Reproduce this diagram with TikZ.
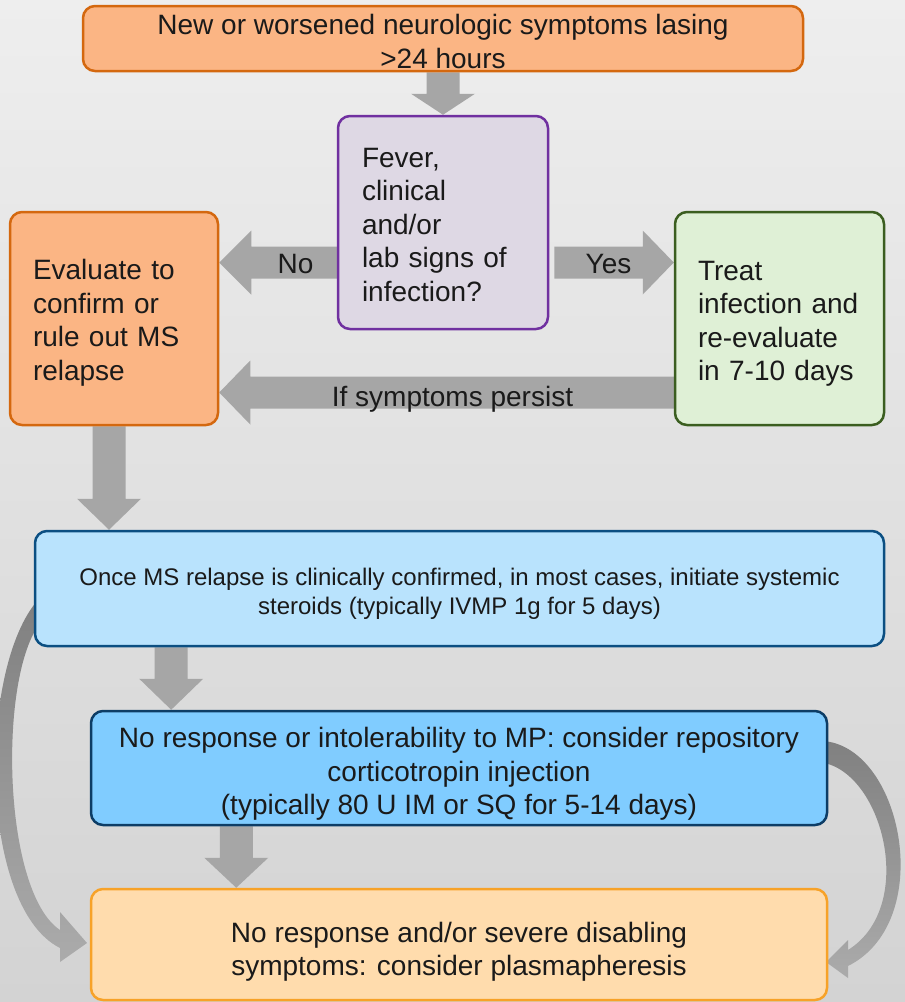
\documentclass[tikz,border=0pt]{standalone}
\usepackage{fontspec}
\setmainfont{Liberation Sans}
\usetikzlibrary{calc}
\pgfdeclarelayer{background}
\pgfsetlayers{background,main}
\definecolor{bgtop}{HTML}{EEEEEE}
\definecolor{bgbot}{HTML}{D3D3D3}
\definecolor{topfill}{HTML}{FBB584}
\definecolor{topdraw}{HTML}{D4680F}
\definecolor{purfill}{HTML}{DED8E4}
\definecolor{purdraw}{HTML}{7030A0}
\definecolor{grfill}{HTML}{DFF0D6}
\definecolor{grdraw}{HTML}{3B5E20}
\definecolor{bafill}{HTML}{B9E3FD}
\definecolor{badraw}{HTML}{0B4F82}
\definecolor{bbfill}{HTML}{80CCFF}
\definecolor{bbdraw}{HTML}{0D3D66}
\definecolor{btfill}{HTML}{FFDCAD}
\definecolor{btdraw}{HTML}{F7A228}
\definecolor{arrowgray}{HTML}{A6A6A6}
\definecolor{curvetop}{HTML}{7F7F7F}
\definecolor{curvebot}{HTML}{ABABAB}
\definecolor{txt}{HTML}{1A1A1A}
\newcommand\tsh[1]{\rule{0pt}{#1}}
\newcommand\blkdown[3]{%
  \fill[arrowgray] let \p1=(#1), \p2=(#2) in
   (\x1-16.5pt,\y1) -- (\x1-16.5pt,\y2+#3) -- (\x1-32pt,\y2+#3) -- (\x1,\y2)
   -- (\x1+32pt,\y2+#3) -- (\x1+16.5pt,\y2+#3) -- (\x1+16.5pt,\y1) -- cycle;}
\newcommand\blkleft[3]{%
  \fill[arrowgray] let \p1=(#1), \p2=(#2) in
   (\x1,\y1+16pt) -- (\x2+#3,\y1+16pt) -- (\x2+#3,\y1+32pt) -- (\x2,\y1)
   -- (\x2+#3,\y1-32pt) -- (\x2+#3,\y1-16pt) -- (\x1,\y1-16pt) -- cycle;}
\newcommand\blkright[3]{%
  \fill[arrowgray] let \p1=(#1), \p2=(#2) in
   (\x1,\y1+16pt) -- (\x2-#3,\y1+16pt) -- (\x2-#3,\y1+32pt) -- (\x2,\y1)
   -- (\x2-#3,\y1-32pt) -- (\x2-#3,\y1-16pt) -- (\x1,\y1-16pt) -- cycle;}
\tikzset{
  box/.style={rounded corners=12pt, line width=2.5pt, inner sep=0pt, text=txt,
    font=\fontsize{28}{33.5}\selectfont},
  leftbox/.style={box, align=left, text width=#1},
  lbl/.style={text=txt, font=\fontsize{28}{33.5}\selectfont, inner sep=0pt}
}
\begin{document}
\begin{tikzpicture}[x=1pt,y=-1pt]
\useasboundingbox (0,0) rectangle (905,1002);
\begin{pgfonlayer}{background}
\shade[top color=bgtop, bottom color=bgbot] (0,0) rectangle (905,1002);
\begin{scope}
\clip (0,0) rectangle (905,1002);
% curved arrows
\shade[top color=curvetop, bottom color=curvebot]
  (45,593) .. controls (-22,650) and (-25,905) .. (60,948)
  -- (60,962) -- (87,943) -- (60,912) -- (60,930)
  .. controls (0,890) and (-2,660) .. (45,618) -- cycle;
\shade[top color=curvetop, bottom color=curvebot]
  (815,741) .. controls (900,735) and (940,920) .. (848,966)
  -- (848,978) -- (826,962) -- (848,940) -- (848,950)
  .. controls (920,905) and (880,762) .. (815,762) -- cycle;
\end{scope}
\end{pgfonlayer}
% boxes
\path
 node[box, fill=topfill, draw=topdraw, minimum width=720pt, minimum height=65pt, align=center]
   (top) at (443,38.5) {\tsh{26.4pt}New or worsened neurologic symptoms lasing\\>24 hours}
 node[leftbox=162pt, fill=purfill, draw=purdraw, inner xsep=24pt, minimum height=213pt]
   (q) at (443,222.5) {\tsh{23.5pt}Fever,\\clinical\\and/or\\lab signs of\\infection?}
 node[leftbox=162pt, fill=topfill, draw=topdraw, inner xsep=23pt, minimum height=213pt]
   (eval) at (114,318.5) {\tsh{28.4pt}Evaluate to\\confirm or\\rule out MS\\relapse}
 node[leftbox=163pt, fill=grfill, draw=grdraw, inner xsep=23pt, minimum height=213pt]
   (treat) at (779.5,318.5) {\tsh{29.3pt}Treat\\infection and\\re-evaluate\\in 7-10 days}
 node[box, fill=bafill, draw=badraw, minimum width=849pt, minimum height=115pt, align=center,
   font=\fontsize{24}{29}\selectfont]
   (ster) at (459.5,588.5) {\tsh{27.5pt}Once MS relapse is clinically confirmed, in most cases, initiate systemic\\steroids (typically IVMP 1g for 5 days)}
 node[box, fill=bbfill, draw=bbdraw, minimum width=736pt, minimum height=114pt, align=center]
   (acth) at (459,768) {\tsh{32.4pt}No response or intolerability to MP: consider repository\\corticotropin injection\\(typically 80 U IM or SQ for 5-14 days)}
 node[box, fill=btfill, draw=btdraw, minimum width=736pt, minimum height=111pt, align=center]
   (plas) at (459,944.5) {\tsh{34.4pt}No response and/or severe disabling\\symptoms: consider plasmapheresis};
% straight block arrows, behind the boxes
\coordinate (qno) at ([yshift=-40pt]q.west);
\coordinate (qyes) at ([yshift=-40pt]q.east);
\coordinate (tpers) at ([yshift=-74pt]treat.west);
\coordinate (e1) at ([xshift=-5pt]eval.south);
\coordinate (s1) at ($(ster.south west)!0.1614!(ster.south east)$);
\coordinate (a1) at ($(acth.south west)!0.1984!(acth.south east)$);
\begin{pgfonlayer}{background}
\blkdown{top.south}{q.north}{21pt}
\blkleft{qno}{eval.east |- qno}{32pt}
\blkright{[xshift=5pt]qyes}{treat.west |- qyes}{31pt}
\blkleft{tpers}{eval.east |- tpers}{31pt}
\blkdown{e1}{e1 |- ster.north}{31pt}
\blkdown{s1}{s1 |- acth.north}{31pt}
\blkdown{a1}{a1 |- plas.north}{30pt}
\end{pgfonlayer}
% labels on arrows
\node[lbl, anchor=base] (no) at (295.5,273) {No};
\node[lbl, anchor=base] (yes) at (608.5,273) {Yes};
\node[lbl, anchor=base] (pers) at (452.5,406) {If symptoms persist};
\end{tikzpicture}
\end{document}
